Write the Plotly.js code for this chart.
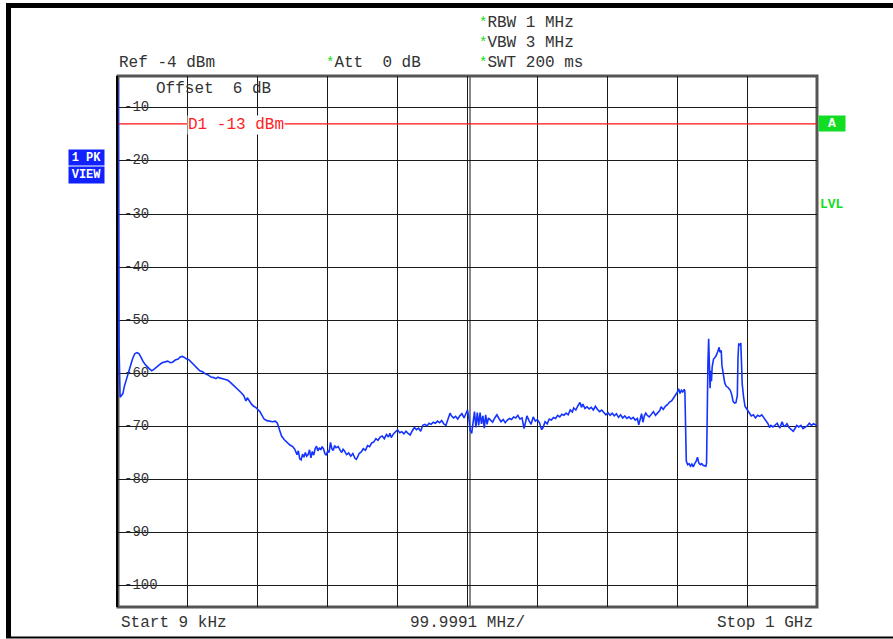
<!DOCTYPE html>
<html>
<head>
<meta charset="utf-8">
<script src="https://cdn.plot.ly/plotly-3.0.1.min.js"></script>
<style>
  html, body { margin: 0; padding: 0; background: #fff; }
  #plot { width: 893px; height: 639px; }
</style>
</head>
<body>
<div id="plot"></div>
<script>
// Sweep: 9 kHz .. 1 GHz, peak detector trace (MHz, dBm)
const freqMHz = [
  0, 1.5, 3, 5, 7, 9, 12, 15, 18, 21, 24, 27, 30, 33, 36, 40, 44, 48, 51, 55, 59, 63, 67, 71, 75, 78, 82, 86, 89, 92, 95, 98,
  101, 105, 109, 113, 117, 121, 125, 129, 133, 137, 140, 143, 146, 150, 154, 157, 160, 164, 168, 172, 176, 180, 183, 185, 188, 191, 194, 197,
  200, 203, 206, 209, 213, 217, 221, 225, 228, 231, 234, 238, 242, 246, 250, 253, 256, 258, 260, 262, 264, 266, 268, 270, 272, 274, 276, 278,
  280, 282, 284, 286, 288, 290, 292, 294, 296, 298, 300, 302, 304, 306, 308, 310, 312, 315, 318, 320, 322, 324, 327, 330, 333, 336, 339, 341,
  343, 345, 348, 351, 354, 357, 360, 363, 366, 369, 372, 375, 378, 381, 384, 387, 389, 391, 394, 397, 400, 403, 406, 409, 412, 415, 418, 421,
  424, 427, 430, 433, 436, 439, 442, 445, 448, 451, 454, 457, 460, 463, 466, 469, 472, 475, 477, 480, 483, 486, 489, 492, 495, 498, 500, 502,
  504, 506, 508, 510, 512, 514, 516, 518, 520, 522, 524, 526, 528, 530, 533, 536, 539, 542, 545, 548, 551, 554, 557, 560, 563, 566, 569, 572,
  575, 578, 581, 583, 585, 588, 591, 594, 597, 600, 603, 606, 608, 611, 614, 617, 620, 623, 626, 629, 632, 635, 638, 641, 644, 647, 650, 652,
  655, 658, 661, 663, 665, 668, 671, 674, 677, 680, 683, 686, 689, 692, 695, 698, 701, 704, 707, 710, 713, 716, 719, 722, 725, 728, 731, 734,
  737, 740, 743, 745, 747, 749, 751, 753, 755, 757, 760, 763, 766, 769, 772, 775, 777, 780, 783, 786, 789, 792, 795, 798, 800, 802, 804, 806,
  808, 810, 811, 813, 815, 817, 819, 821, 823, 825, 827, 829, 831, 833, 835, 837, 839, 841, 842, 843, 844, 845, 846, 847, 848, 849, 850, 852,
  854, 856, 858, 860, 861, 863, 864, 866, 868, 870, 873, 876, 878, 880, 882, 884, 886, 887, 888, 890, 891, 892, 893, 895, 897, 900, 903, 906,
  909, 912, 915, 918, 921, 924, 927, 930, 932, 934, 937, 940, 943, 945, 947, 950, 952, 954, 957, 960, 963, 966, 969, 971, 974, 977, 980, 983,
  986, 989, 992, 995, 998, 1000
];
const levelDbm = [
  -5, -55, -64.5, -64.2, -63.8, -62.5, -61, -59.8, -58.5, -57.2, -56.3, -56.1, -56.3, -57, -57.8, -58.5, -59, -59.5, -59.3, -58.8, -58.4, -58, -57.8, -57.7, -58.0, -57.9, -57.5, -57.3, -56.9, -56.8, -57.0, -57.3,
  -57.4, -57.9, -58.4, -58.9, -59.5, -59.7, -60.1, -60.3, -60.7, -60.8, -61.0, -60.7, -60.9, -61.0, -61.2, -61.3, -61.6, -62.1, -62.6, -63.0, -63.6, -64.2, -65.2, -64.6, -65.3, -65.8, -66.2, -66.4,
  -66.8, -67.2, -67.9, -68.6, -68.9, -69.0, -69.1, -69.0, -69.4, -70.6, -71.8, -72.5, -73.0, -73.5, -73.8, -74.3, -75.3, -74.6, -76.1, -76.3, -75.2, -75.8, -74.9, -75.6, -75.3, -74.4, -75.9, -74.7,
  -75.4, -74.2, -73.7, -74.6, -74.0, -74.4, -73.8, -74.2, -75.1, -75.4, -74.6, -74.9, -73.0, -74.2, -74.5, -73.6, -74.0, -73.8, -74.5, -74.9, -74.3, -74.6, -75.3, -75.0, -75.6, -75.1, -76.0, -76.2,
  -75.7, -75.1, -74.8, -74.2, -74.5, -73.6, -73.8, -73.1, -72.9, -72.3, -72.6, -72.0, -71.8, -72.3, -71.5, -72.0, -71.3, -72.1, -71.4, -71.0, -70.6, -71.2, -71.0, -71.4, -70.9, -71.3, -71.6, -70.8,
  -70.2, -70.6, -70.3, -70.9, -69.8, -69.6, -69.9, -69.4, -69.6, -69.2, -69.4, -69.0, -69.3, -68.9, -69.5, -69.8, -68.6, -67.5, -68.0, -68.4, -68.1, -68.6, -68.0, -67.6, -68.4, -67.3, -66.9, -68.5,
  -70.8, -71.3, -69.0, -67.2, -70.2, -67.4, -69.8, -67.4, -69.5, -68.0, -70.3, -67.8, -69.6, -68.4, -68.8, -69.2, -68.4, -67.8, -68.5, -69.1, -68.7, -69.3, -68.8, -68.5, -68.7, -68.2, -68.4, -67.9,
  -68.6, -68.4, -70.4, -69.2, -68.0, -68.9, -69.6, -68.2, -69.0, -68.7, -69.3, -70.6, -70.2, -69.1, -69.5, -68.6, -68.8, -68.3, -68.5, -67.9, -68.2, -67.7, -67.9, -67.5, -67.8, -66.9, -67.3, -66.5,
  -66.9, -66.1, -65.5, -66.4, -65.8, -66.6, -66.3, -66.7, -66.4, -66.9, -66.2, -66.8, -67.2, -66.9, -67.4, -67.8, -67.4, -67.9, -67.5, -68.0, -67.6, -68.3, -67.8, -68.4, -68.0, -68.5, -68.2, -68.6,
  -68.3, -68.8, -68.5, -69.7, -68.7, -67.6, -69.2, -68.0, -67.5, -67.9, -68.2, -67.6, -67.2, -67.9, -67.5, -67.0, -66.3, -66.8, -66.2, -65.9, -65.4, -65.2, -64.6, -64.0, -63.6, -62.9, -63.8, -63.2,
  -63.5, -63.0, -63.4, -76.5, -77.2, -77.0, -77.5, -77.1, -77.6, -77.0, -76.6, -75.8, -76.9, -77.2, -77.0, -77.3, -77.4, -77.5, -76.9, -60.0, -57.8, -53.5, -62.0, -62.8, -59.5, -61.5, -58.8, -57.3,
  -57.0, -56.6, -55.9, -55.1, -56.0, -55.7, -58.5, -60.5, -61.8, -62.4, -62.7, -63.2, -64.0, -65.3, -65.6, -65.5, -64.2, -57.0, -54.5, -54.6, -54.3, -58.0, -62.0, -64.5, -66.2, -66.8, -67.5, -68.0,
  -67.8, -68.4, -67.9, -68.1, -67.8, -68.3, -68.8, -69.5, -70.2, -69.8, -70.1, -69.8, -69.4, -69.9, -70.3, -69.1, -69.8, -70.0, -69.5, -70.2, -70.5, -70.9, -70.3, -69.8, -70.1, -69.8, -70.4, -70.2,
  -69.9, -69.4, -69.8, -69.5, -69.7, -69.6
];

// Display line, reference level and grid
const displayLineDbm = -13;
const displayLineLabel = 'D1 -13 dBm';
const refLevelDbm = -4;
const startMHz = 0;
const stopMHz = 1000;
const yTickVals = [-10, -20, -30, -40, -50, -60, -70, -80, -90, -100];
const yTickText = ['-10', '-20', '-30', '-40', '-50', '-60', '-70', '-80', '-90', '-100'];

// Instrument settings text
const refText = 'Ref -4 dBm';
const attText = 'Att  0 dB';
const rbwText = 'RBW 1 MHz';
const vbwText = 'VBW 3 MHz';
const swtText = 'SWT 200 ms';
const offsetText = 'Offset  6 dB';
const startText = 'Start 9 kHz';
const spanText = '99.9991 MHz/';
const stopText = 'Stop 1 GHz';

// Page geometry (plot area in pixels)
const W = 893, H = 639;
const L = 118, R = 817, T = 76, B = 607;
const px = x => (x - L) / (R - L);
const py = y => (B - y) / (B - T);

const MONO = 'Liberation Mono, DejaVu Sans Mono, monospace';
const TXT = '#333333';
const GREEN = '#11dd22';
const star = '<span style="color:' + GREEN + ';font-size:14px">*</span>';

function label(text, x, y, opts) {
  return Object.assign({
    text: text, xref: 'paper', yref: 'paper', x: px(x), y: py(y + 2),
    xanchor: 'left', yanchor: 'middle', showarrow: false,
    font: {family: MONO, size: 16, color: TXT}
  }, opts || {});
}

const annotations = [
  label(refText, 117, 61),
  label(star + attText, 324, 61),
  label(star + rbwText, 477, 21),
  label(star + vbwText, 477, 41),
  label(star + swtText, 477, 61),
  label(offsetText, 154, 87),
  label(startText, 119, 621),
  label(spanText, 467, 621, {xanchor: 'center'}),
  label(stopText, 815, 621, {xanchor: 'right'}),
  {
    text: displayLineLabel, xref: 'paper', yref: 'y', x: px(187), y: displayLineDbm,
    yshift: -1,
    xanchor: 'left', yanchor: 'middle', showarrow: false, bgcolor: '#ffffff', borderpad: 0,
    font: {family: MONO, size: 16, color: '#ff2222'}
  },
  {
    text: '<b>A</b>', xref: 'paper', yref: 'paper', x: px(832), y: py(123.5),
    xanchor: 'center', yanchor: 'middle', showarrow: false, bgcolor: GREEN,
    width: 26, height: 15, borderpad: 0,
    font: {family: MONO, size: 13, color: '#ffffff'}
  },
  label('<b>LVL</b>', 818, 202, {font: {family: MONO, size: 13, color: GREEN}}),
  {
    text: '<b>1 PK</b>', xref: 'paper', yref: 'paper', x: px(86.5), y: py(158),
    xanchor: 'center', yanchor: 'middle', showarrow: false, bgcolor: '#1122ff',
    width: 35, height: 15, borderpad: 0,
    font: {family: MONO, size: 12, color: '#ffffff'}
  },
  {
    text: '<b>VIEW</b>', xref: 'paper', yref: 'paper', x: px(86.5), y: py(174.5),
    xanchor: 'center', yanchor: 'middle', showarrow: false, bgcolor: '#1122ff',
    width: 35, height: 16, borderpad: 0,
    font: {family: MONO, size: 12, color: '#ffffff'}
  }
];

const shapes = [
  // outer screen border
  {type: 'rect', xref: 'paper', yref: 'paper', x0: px(6), x1: px(11), y0: py(3), y1: py(638),
   fillcolor: '#000', line: {width: 0}, layer: 'above'},
  {type: 'rect', xref: 'paper', yref: 'paper', x0: px(6), x1: px(W + 5), y0: py(3), y1: py(8),
   fillcolor: '#000', line: {width: 0}, layer: 'above'},
  {type: 'line', xref: 'paper', yref: 'paper', x0: px(6), x1: px(W + 5), y0: py(637.5), y1: py(637.5),
   line: {color: '#000', width: 2}, layer: 'above'},
  // second line of the centre graticule division
  {type: 'line', xref: 'x', yref: 'paper', xsizemode: 'pixel', xanchor: (startMHz + stopMHz) / 2,
   x0: 2.5, x1: 2.5, y0: 0, y1: 1, line: {color: '#111', width: 1}, layer: 'between'},
  // plot frame, beneath the trace
  {type: 'rect', xref: 'paper', yref: 'paper', x0: 0, x1: 1, y0: 0, y1: 1,
   line: {color: '#555', width: 3}, layer: 'between'},
  {type: 'line', xref: 'paper', yref: 'paper', xsizemode: 'pixel', xanchor: 0,
   x0: -1, x1: -1, y0: 0, y1: 1, line: {color: '#000', width: 2}, layer: 'between'}
];

// White gaps in the graticule where the level labels sit
yTickText.forEach((t, i) => {
  shapes.push({
    type: 'rect', xref: 'paper', yref: 'y', ysizemode: 'pixel', yanchor: yTickVals[i],
    x0: px(124), x1: px(126 + t.length * 8.4 + 3),
    y0: -7, y1: 7, fillcolor: '#ffffff', line: {width: 0}, layer: 'between'
  });
});

const labelPosMHz = (124 - L) / (R - L) * (stopMHz - startMHz);

const traces = [
  {
    // level scale labels, drawn under the measurement trace
    x: yTickVals.map(() => labelPosMHz), y: yTickVals, text: yTickText,
    mode: 'text', textposition: 'middle right', hoverinfo: 'skip',
    textfont: {family: MONO, size: 14, color: TXT}, cliponaxis: false
  },
  {
    x: [startMHz, stopMHz], y: [displayLineDbm, displayLineDbm],
    mode: 'lines', line: {color: '#ff1111', width: 1.2}, hoverinfo: 'skip'
  },
  {
    x: freqMHz, y: levelDbm, mode: 'lines',
    line: {color: '#1433ff', width: 1.6}
  }
];

const layout = {
  width: W, height: H,
  margin: {l: L, r: W - R, t: T, b: H - B, pad: 0},
  paper_bgcolor: '#ffffff', plot_bgcolor: '#ffffff',
  showlegend: false,
  xaxis: {
    range: [startMHz, stopMHz], dtick: 100, tick0: 0,
    showgrid: true, gridcolor: '#1a1a1a', gridwidth: 1,
    showticklabels: false, ticks: '', zeroline: false, showline: false, fixedrange: true
  },
  yaxis: {
    range: [refLevelDbm - 100, refLevelDbm], dtick: 10, tick0: 0,
    showgrid: true, gridcolor: '#1a1a1a', gridwidth: 1,
    showticklabels: false, ticks: '', zeroline: false, showline: false, fixedrange: true
  },
  annotations: annotations,
  shapes: shapes
};

Plotly.newPlot('plot', traces, layout, {displayModeBar: false, staticPlot: true});
</script>
</body>
</html>
